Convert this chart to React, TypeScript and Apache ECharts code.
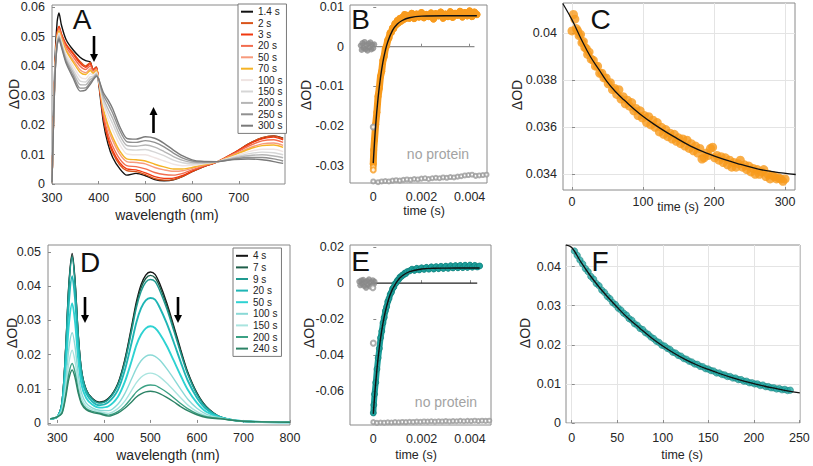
import React, { useEffect, useRef } from "react";
import * as echarts from "echarts";

const FONT = "'Liberation Sans', Arial, Helvetica, sans-serif";
const ORANGE = "#f89a1c";
const TEAL = "#1b9e9a";

// ---------- Panel A: spectra ----------
const wavelengthsA = [300, 306, 311, 315, 320, 330, 345, 360, 372, 382, 388, 395, 400, 410, 420, 430, 445, 460, 480, 500, 520, 540, 560, 580, 600, 620, 655, 690, 720, 750, 775, 795];
const a1p4 = [0.0005, 0.04, 0.055, 0.058, 0.054, 0.049, 0.0455, 0.043, 0.0418, 0.0414, 0.0387, 0.0396, 0.034, 0.021, 0.0135, 0.009, 0.0052, 0.003, 0.0036, 0.0028, 0.0015, 0.0011, 0.0014, 0.0026, 0.0042, 0.0056, 0.0076, 0.0105, 0.0135, 0.0156, 0.0163, 0.0155];
const a2 = [0.0005, 0.037, 0.051, 0.0535, 0.051, 0.0475, 0.0445, 0.0415, 0.04, 0.0412, 0.0388, 0.0397, 0.035, 0.0225, 0.015, 0.0105, 0.0065, 0.0045, 0.0042, 0.0032, 0.0018, 0.0013, 0.0015, 0.0026, 0.0042, 0.0056, 0.0076, 0.0106, 0.0135, 0.0157, 0.0163, 0.0154];
const a3 = [0.0005, 0.0369, 0.0508, 0.0533, 0.0508, 0.0472, 0.0441, 0.041, 0.0396, 0.0408, 0.0386, 0.0395, 0.035, 0.0229, 0.0157, 0.0113, 0.0072, 0.0051, 0.0048, 0.0038, 0.0025, 0.0019, 0.002, 0.0029, 0.0044, 0.0057, 0.0076, 0.0105, 0.0133, 0.0153, 0.0159, 0.015];
const a20 = [0.0005, 0.0367, 0.0504, 0.0528, 0.0503, 0.0465, 0.0432, 0.04, 0.0388, 0.0401, 0.0383, 0.0392, 0.0351, 0.0238, 0.017, 0.0128, 0.0085, 0.0062, 0.0059, 0.0051, 0.0039, 0.0032, 0.003, 0.0036, 0.0048, 0.0059, 0.0076, 0.0103, 0.0128, 0.0146, 0.015, 0.0141];
const a50 = [0.0005, 0.0364, 0.0499, 0.0522, 0.0497, 0.0457, 0.0421, 0.0387, 0.0377, 0.0391, 0.0378, 0.0388, 0.0351, 0.0249, 0.0188, 0.0147, 0.0101, 0.0076, 0.0073, 0.0068, 0.0056, 0.0048, 0.0043, 0.0045, 0.0053, 0.0062, 0.0076, 0.01, 0.0121, 0.0136, 0.0139, 0.0131];
const a70 = [0.0005, 0.0363, 0.0496, 0.0519, 0.0494, 0.0452, 0.0414, 0.0379, 0.0371, 0.0385, 0.0375, 0.0386, 0.0352, 0.0256, 0.0199, 0.0159, 0.0112, 0.0085, 0.0082, 0.0078, 0.0067, 0.0058, 0.0051, 0.0051, 0.0056, 0.0064, 0.0076, 0.0098, 0.0117, 0.013, 0.0132, 0.0124];
const a100 = [0.0005, 0.036, 0.0489, 0.0512, 0.0487, 0.0441, 0.0401, 0.0363, 0.0357, 0.0374, 0.0369, 0.038, 0.0353, 0.0269, 0.022, 0.0183, 0.0133, 0.0102, 0.0099, 0.0099, 0.0089, 0.0078, 0.0067, 0.0062, 0.0063, 0.0067, 0.0076, 0.0094, 0.0109, 0.0118, 0.0118, 0.011];
const a150 = [0.0005, 0.0357, 0.0484, 0.0505, 0.048, 0.0432, 0.0389, 0.0349, 0.0346, 0.0363, 0.0364, 0.0376, 0.0353, 0.0281, 0.0239, 0.0204, 0.0151, 0.0118, 0.0115, 0.0117, 0.0108, 0.0096, 0.0081, 0.0072, 0.0068, 0.007, 0.0076, 0.0091, 0.0102, 0.0108, 0.0106, 0.0099];
const a200 = [0.0005, 0.0354, 0.0479, 0.05, 0.0475, 0.0424, 0.0379, 0.0337, 0.0336, 0.0354, 0.036, 0.0372, 0.0354, 0.0291, 0.0255, 0.0222, 0.0166, 0.0131, 0.0128, 0.0132, 0.0125, 0.011, 0.0093, 0.008, 0.0073, 0.0072, 0.0076, 0.0088, 0.0096, 0.0099, 0.0095, 0.0089];
const a250 = [0.0005, 0.0352, 0.0474, 0.0495, 0.047, 0.0417, 0.0369, 0.0325, 0.0326, 0.0345, 0.0356, 0.0368, 0.0355, 0.0302, 0.0272, 0.024, 0.0182, 0.0144, 0.0141, 0.0147, 0.0141, 0.0126, 0.0105, 0.0088, 0.0078, 0.0075, 0.0076, 0.0085, 0.009, 0.009, 0.0085, 0.0078];
const a300 = [0.0005, 0.035, 0.047, 0.049, 0.0465, 0.041, 0.036, 0.0315, 0.0318, 0.0338, 0.0352, 0.0365, 0.0355, 0.031, 0.0285, 0.0255, 0.0195, 0.0155, 0.0152, 0.016, 0.0155, 0.0138, 0.0115, 0.0095, 0.0082, 0.0077, 0.0076, 0.0083, 0.0085, 0.0082, 0.0076, 0.007];
const namesA = ["1.4 s", "2 s", "3 s", "20 s", "50 s", "70 s", "100 s", "150 s", "200 s", "250 s", "300 s"];
const colorsA = ["#111111", "#d9541a", "#f0380f", "#f26d4f", "#f79a7c", "#f5b325", "#efe4e2", "#d6d6d6", "#b5b5b5", "#909090", "#7a7a7a"];
const spectraA = [a1p4, a2, a3, a20, a50, a70, a100, a150, a200, a250, a300];

// ---------- Panel D: spectra ----------
const wavelengthsD = [285, 300, 310, 318, 325, 332, 338, 345, 352, 362, 375, 390, 410, 430, 445, 460, 470, 480, 490, 500, 510, 520, 535, 550, 565, 580, 600, 620, 650, 700, 800];
const d4 = [0.0012, 0.0018, 0.006, 0.022, 0.041, 0.0496, 0.042, 0.026, 0.0155, 0.0098, 0.0072, 0.0061, 0.0072, 0.0115, 0.0185, 0.0285, 0.0355, 0.0405, 0.0433, 0.0442, 0.0435, 0.0408, 0.0352, 0.0285, 0.0215, 0.015, 0.0088, 0.0048, 0.0018, 0.0005, 0.0002];
const d7 = [0.0012, 0.0018, 0.006, 0.0218, 0.0405, 0.049, 0.0415, 0.0257, 0.0153, 0.0097, 0.0071, 0.006, 0.0071, 0.0113, 0.0181, 0.0279, 0.0347, 0.0396, 0.0423, 0.0432, 0.0425, 0.0399, 0.0344, 0.0279, 0.021, 0.0147, 0.0086, 0.0047, 0.0018, 0.0005, 0.0002];
const d9 = [0.0012, 0.0018, 0.0059, 0.0215, 0.0401, 0.0485, 0.0411, 0.0255, 0.0152, 0.0096, 0.007, 0.0058, 0.0069, 0.011, 0.0176, 0.0271, 0.0338, 0.0385, 0.0412, 0.042, 0.0414, 0.0388, 0.0335, 0.0271, 0.0205, 0.0143, 0.0084, 0.0046, 0.0018, 0.0005, 0.0002];
const d20 = [0.0012, 0.0018, 0.0054, 0.0192, 0.0356, 0.043, 0.0365, 0.0226, 0.0136, 0.0087, 0.0063, 0.0052, 0.0061, 0.0096, 0.0154, 0.0237, 0.0295, 0.0336, 0.0359, 0.0366, 0.0361, 0.0338, 0.0292, 0.0237, 0.0179, 0.0125, 0.0074, 0.0041, 0.0017, 0.0005, 0.0002];
const d50 = [0.0012, 0.0018, 0.0046, 0.0158, 0.029, 0.035, 0.0297, 0.0186, 0.0112, 0.0073, 0.0054, 0.0045, 0.0049, 0.0076, 0.012, 0.0183, 0.0228, 0.0259, 0.0277, 0.0283, 0.0278, 0.0261, 0.0226, 0.0183, 0.0139, 0.0098, 0.0059, 0.0033, 0.0016, 0.0005, 0.0002];
const d100 = [0.0012, 0.0018, 0.0038, 0.0121, 0.022, 0.0264, 0.0225, 0.0142, 0.0088, 0.0058, 0.0044, 0.0037, 0.0036, 0.0055, 0.0086, 0.013, 0.016, 0.0182, 0.0195, 0.0199, 0.0195, 0.0184, 0.0159, 0.013, 0.0099, 0.007, 0.0043, 0.0026, 0.0015, 0.0005, 0.0002];
const d150 = [0.0012, 0.0018, 0.0033, 0.0099, 0.0177, 0.0213, 0.0181, 0.0116, 0.0073, 0.0049, 0.0039, 0.0033, 0.0028, 0.0042, 0.0064, 0.0096, 0.0118, 0.0134, 0.0143, 0.0146, 0.0143, 0.0135, 0.0117, 0.0096, 0.0074, 0.0053, 0.0033, 0.0021, 0.0014, 0.0005, 0.0002];
const d200 = [0.0012, 0.0018, 0.003, 0.0083, 0.0146, 0.0174, 0.0149, 0.0096, 0.0061, 0.0042, 0.0034, 0.0029, 0.0023, 0.0033, 0.005, 0.0074, 0.0091, 0.0102, 0.0109, 0.0111, 0.011, 0.0103, 0.009, 0.0074, 0.0057, 0.0042, 0.0027, 0.0018, 0.0013, 0.0005, 0.0002];
const d240 = [0.0012, 0.0018, 0.0028, 0.0075, 0.013, 0.0155, 0.0133, 0.0087, 0.0056, 0.0039, 0.0031, 0.0027, 0.002, 0.0029, 0.0043, 0.0062, 0.0076, 0.0085, 0.0091, 0.0093, 0.0091, 0.0086, 0.0075, 0.0062, 0.0048, 0.0036, 0.0024, 0.0016, 0.0012, 0.0005, 0.0002];
const namesD = ["4 s", "7 s", "9 s", "20 s", "50 s", "100 s", "150 s", "200 s", "240 s"];
const colorsD = ["#151515", "#1e5e4a", "#1f9a90", "#1fb5b5", "#2ed2d2", "#8ad9d6", "#a9e4df", "#3ba184", "#2c8366"];
const spectraD = [d4, d7, d9, d20, d50, d100, d150, d200, d240];

// ---------- Panel B: fast kinetics ----------
const bData = [[0, -0.0295], [0.00002, -0.026], [0.00005, -0.0235], [0.0001, -0.0195], [0.00015, -0.0165], [0.0002, -0.0125], [0.00025, -0.0105], [0.0003, -0.0075], [0.00035, -0.0062], [0.0004, -0.0035], [0.00045, -0.0025], [0.0005, -0.0005], [0.00055, 0.0002], [0.0006, 0.0016], [0.00065, 0.0022], [0.0007, 0.0035], [0.00075, 0.0036], [0.0008, 0.0047], [0.00085, 0.0046], [0.0009, 0.0058], [0.00095, 0.0055], [0.001, 0.0066], [0.00105, 0.006], [0.0011, 0.0071], [0.00115, 0.0064], [0.0012, 0.0074], [0.00125, 0.0068], [0.0013, 0.0081], [0.00135, 0.0071], [0.0014, 0.0079], [0.0015, 0.0072], [0.0016, 0.0084], [0.0017, 0.0071], [0.0018, 0.0082], [0.0019, 0.0075], [0.002, 0.0086], [0.0021, 0.0073], [0.0022, 0.0081], [0.0023, 0.0076], [0.0024, 0.0085], [0.0025, 0.007], [0.0026, 0.0083], [0.0027, 0.0078], [0.0028, 0.0087], [0.0029, 0.0072], [0.003, 0.0082], [0.0031, 0.0076], [0.0032, 0.0088], [0.0033, 0.0074], [0.0034, 0.0084], [0.0035, 0.0079], [0.0036, 0.0089], [0.0037, 0.0075], [0.0038, 0.0086], [0.0039, 0.0078], [0.004, 0.009], [0.0041, 0.0076], [0.0042, 0.0087], [0.0043, 0.0081]];
const bFit = [[0, -0.0293], [0.0001, -0.0198], [0.0002, -0.0129], [0.0003, -0.0078], [0.0004, -0.0039], [0.0005, -0.001], [0.0006, 0.0012], [0.0008, 0.0041], [0.001, 0.0057], [0.0012, 0.0066], [0.0015, 0.0073], [0.002, 0.0077], [0.003, 0.0078], [0.0043, 0.0078]];
const bPre = [[-0.00052, 0.0003], [-0.00048, -0.0008], [-0.00045, 0.0009], [-0.0004, -0.0003], [-0.00036, 0.0012], [-0.00032, -0.0006], [-0.00028, 0.0004], [-0.00024, -0.001], [-0.0002, 0.0008], [-0.00016, -0.0002], [-0.00012, 0.0011], [-0.00008, -0.0007], [-0.00004, 0.0005], [0, -0.0004], [0.00004, 0.0006]];
const bNoProtein = [[0, -0.0339], [0.0002, -0.0341], [0.00035, -0.0339], [0.0005, -0.0338], [0.00065, -0.0339], [0.0008, -0.0337], [0.00095, -0.0336], [0.0011, -0.0337], [0.00125, -0.0335], [0.0014, -0.0334], [0.00155, -0.0335], [0.0017, -0.0333], [0.00185, -0.0334], [0.002, -0.0332], [0.00215, -0.0331], [0.0023, -0.0333], [0.00245, -0.0331], [0.0026, -0.033], [0.00275, -0.0331], [0.0029, -0.0329], [0.00305, -0.033], [0.0032, -0.0328], [0.00335, -0.0329], [0.0035, -0.0327], [0.00365, -0.0326], [0.0038, -0.0324], [0.00395, -0.0323], [0.0041, -0.0322], [0.00425, -0.0325], [0.0044, -0.0324], [0.00455, -0.0323], [0.0047, -0.0322]];
const bOpenT0 = [[0, -0.0202], [0, -0.0303], [0, -0.031]];
const bZero = [[0, 0], [0.0042, 0]];

// ---------- Panel C: slow kinetics ----------
const cData = [[0, 0.0401], [2, 0.0408], [4, 0.0406], [6, 0.0402], [8, 0.0401], [10, 0.0399], [12, 0.03995], [14, 0.0396], [16, 0.03965], [18, 0.0394], [20, 0.03935], [22, 0.0391], [24, 0.0392], [27, 0.0389], [30, 0.03885], [33, 0.0386], [36, 0.0386], [39, 0.0383], [42, 0.0383], [45, 0.0381], [48, 0.0381], [51, 0.03785], [54, 0.0379], [57, 0.0376], [60, 0.03765], [63, 0.0374], [66, 0.0376], [69, 0.0372], [72, 0.0373], [75, 0.037], [78, 0.03715], [81, 0.0369], [84, 0.03705], [87, 0.0367], [90, 0.0368], [93, 0.0365], [96, 0.0367], [99, 0.0364], [102, 0.0365], [105, 0.0362], [108, 0.03645], [111, 0.0361], [114, 0.0363], [117, 0.036], [120, 0.0362], [123, 0.0358], [126, 0.036], [129, 0.0357], [132, 0.0359], [135, 0.0356], [138, 0.03575], [141, 0.0355], [144, 0.0357], [147, 0.0354], [150, 0.03555], [153, 0.0353], [156, 0.0355], [159, 0.0352], [162, 0.03545], [165, 0.0351], [168, 0.0353], [171, 0.035], [174, 0.0352], [177, 0.0349], [180, 0.0351], [183, 0.03465], [186, 0.0347], [189, 0.0349], [192, 0.0348], [195, 0.0351], [198, 0.03515], [201, 0.0347], [204, 0.0348], [207, 0.0346], [210, 0.03475], [213, 0.0345], [216, 0.0347], [219, 0.0344], [222, 0.0346], [225, 0.0343], [228, 0.0345], [231, 0.0343], [234, 0.03445], [237, 0.0346], [240, 0.0343], [243, 0.0344], [246, 0.0342], [249, 0.03435], [252, 0.0341], [255, 0.03425], [258, 0.034], [261, 0.0342], [264, 0.034], [267, 0.0341], [270, 0.0342], [273, 0.0339], [276, 0.034], [279, 0.0338], [282, 0.03395], [285, 0.0339], [288, 0.0338], [291, 0.03385], [294, 0.0338], [297, 0.0337], [300, 0.0338]];
const cFit = [[-13, 0.04127], [0, 0.04057], [13, 0.03975], [26, 0.039], [38, 0.03845], [49, 0.03795], [61, 0.03752], [73, 0.03717], [96.5, 0.03654], [120, 0.03604], [143.5, 0.0356], [167, 0.0352], [190.6, 0.03489], [214, 0.03463], [237.6, 0.03442], [261, 0.03423], [284.7, 0.0341], [315, 0.03399]];

// ---------- Panel E: fast kinetics ----------
const eData = [[0, -0.0725], [0.00002, -0.068], [0.00005, -0.062], [0.0001, -0.0555], [0.00015, -0.048], [0.0002, -0.0418], [0.00025, -0.0365], [0.0003, -0.0305], [0.00035, -0.0268], [0.0004, -0.0222], [0.00045, -0.0192], [0.0005, -0.0155], [0.00055, -0.0132], [0.0006, -0.0102], [0.00065, -0.0086], [0.0007, -0.0062], [0.00075, -0.0051], [0.0008, -0.003], [0.00085, -0.0022], [0.0009, -0.0003], [0.00095, 0.0002], [0.001, 0.0016], [0.00105, 0.002], [0.0011, 0.0034], [0.00115, 0.0035], [0.0012, 0.0045], [0.00125, 0.0046], [0.0013, 0.0056], [0.00135, 0.0054], [0.0014, 0.0064], [0.0015, 0.0068], [0.0016, 0.0078], [0.0017, 0.0071], [0.0018, 0.0083], [0.0019, 0.0074], [0.002, 0.0086], [0.0021, 0.0077], [0.0022, 0.0088], [0.0023, 0.0078], [0.0024, 0.0091], [0.0025, 0.0079], [0.0026, 0.0092], [0.0027, 0.0081], [0.0028, 0.0094], [0.0029, 0.0082], [0.003, 0.0095], [0.0031, 0.0083], [0.0032, 0.0097], [0.0033, 0.0085], [0.0034, 0.0098], [0.0035, 0.0086], [0.0036, 0.0099], [0.0037, 0.0087], [0.0038, 0.01], [0.0039, 0.0088], [0.004, 0.0101], [0.0041, 0.0089], [0.0042, 0.0099], [0.0043, 0.009], [0.0044, 0.0096]];
const eFit = [[0, -0.073], [0.0001, -0.0554], [0.0002, -0.0416], [0.0003, -0.0308], [0.0004, -0.0223], [0.0005, -0.0157], [0.0006, -0.0105], [0.0007, -0.0064], [0.0008, -0.0032], [0.001, 0.0013], [0.0012, 0.0041], [0.0015, 0.0064], [0.002, 0.0079], [0.0025, 0.0083], [0.003, 0.0084], [0.0044, 0.0085]];
const ePre = [[-0.00058, 0.0008], [-0.00054, -0.0012], [-0.0005, 0.0015], [-0.00046, -0.0004], [-0.00042, 0.0019], [-0.00038, -0.0016], [-0.00034, 0.0006], [-0.0003, -0.0026], [-0.00026, 0.0012], [-0.00022, -0.0009], [-0.00018, 0.0021], [-0.00014, -0.0018], [-0.0001, 0.0004], [-0.00006, -0.0011], [-0.00002, 0.0016], [0.00002, -0.0006], [0.00005, 0.0009]];
const eNoProtein = [[0, -0.0776], [0.00015, -0.078], [0.0003, -0.0778], [0.00045, -0.0779], [0.0006, -0.0777], [0.00075, -0.0778], [0.0009, -0.0776], [0.00105, -0.0777], [0.0012, -0.0775], [0.00135, -0.0776], [0.0015, -0.0774], [0.00165, -0.0775], [0.0018, -0.0773], [0.00195, -0.0774], [0.0021, -0.0772], [0.00225, -0.0773], [0.0024, -0.0771], [0.00255, -0.0773], [0.0027, -0.0771], [0.00285, -0.0772], [0.003, -0.077], [0.00315, -0.0772], [0.0033, -0.077], [0.00345, -0.0771], [0.0036, -0.0769], [0.00375, -0.0771], [0.0039, -0.0769], [0.00405, -0.077], [0.0042, -0.0768], [0.00435, -0.077], [0.0045, -0.0768], [0.00465, -0.0769], [0.0048, -0.0768]];
const eOpenT0 = [[0, -0.0335], [-0.00002, -0.0026]];
const eZero = [[0, 0], [0.0043, 0]];

// ---------- Panel F: slow kinetics ----------
const fData = [[3, 0.044], [6, 0.0429], [9, 0.0417], [12, 0.0407], [15, 0.0395], [18, 0.0387], [21, 0.0375], [24, 0.0368], [27, 0.0357], [30, 0.0351], [33, 0.034], [36, 0.0334], [39, 0.0324], [42, 0.0318], [45, 0.0308], [48, 0.0303], [51, 0.0294], [54, 0.0289], [57, 0.0281], [60, 0.0276], [63, 0.0267], [66, 0.0263], [69, 0.0254], [72, 0.025], [75, 0.0242], [78, 0.0239], [81, 0.0231], [84, 0.0227], [87, 0.022], [90, 0.0216], [93, 0.0209], [96, 0.0206], [99, 0.0199], [102, 0.0197], [105, 0.0191], [108, 0.0188], [111, 0.0181], [114, 0.0179], [117, 0.0173], [120, 0.0171], [123, 0.0165], [126, 0.0163], [129, 0.0158], [132, 0.0156], [135, 0.0151], [138, 0.015], [141, 0.0145], [144, 0.0144], [147, 0.0139], [150, 0.0138], [153, 0.0134], [156, 0.0133], [159, 0.0128], [162, 0.0128], [165, 0.0124], [168, 0.0123], [171, 0.0119], [174, 0.0119], [177, 0.0115], [180, 0.0115], [183, 0.0111], [186, 0.0111], [189, 0.0107], [192, 0.0107], [195, 0.0103], [198, 0.0103], [201, 0.01], [204, 0.01], [207, 0.0096], [210, 0.0097], [213, 0.0093], [216, 0.0093], [219, 0.009], [222, 0.009], [225, 0.0087], [228, 0.0088], [231, 0.0085], [234, 0.0086], [237, 0.0083], [240, 0.0084]];
const fFit = [[-6.6, 0.0456], [0, 0.0449], [10, 0.0412], [20, 0.0378], [30, 0.0348], [40, 0.0321], [50, 0.0296], [62, 0.0268], [75, 0.0242], [87, 0.0219], [100, 0.0197], [112, 0.0179], [125, 0.0162], [137, 0.0149], [150, 0.0137], [163, 0.0126], [176, 0.0116], [188, 0.0108], [200, 0.0101], [212, 0.0094], [225, 0.0088], [237, 0.0082], [250.5, 0.0077]];

// ---------- Tick values ----------
const ticksAx = [300, 400, 500, 600, 700];
const ticksAy = [0, 0.01, 0.02, 0.03, 0.04, 0.05, 0.06];
const ticksBx = [0, 0.002, 0.004];
const ticksBy = [-0.03, -0.02, -0.01, 0, 0.01];
const ticksCx = [0, 100, 200, 300];
const ticksCy = [0.034, 0.036, 0.038, 0.04];
const ticksDx = [300, 400, 500, 600, 700, 800];
const ticksDy = [0, 0.01, 0.02, 0.03, 0.04, 0.05];
const ticksEx = [0, 0.002, 0.004];
const ticksEy = [-0.06, -0.04, -0.02, 0, 0.02];
const ticksFx = [0, 50, 100, 150, 200, 250];
const ticksFy = [0, 0.01, 0.02, 0.03, 0.04];

const fmt = (v: number) => String(parseFloat(Number(v).toFixed(5)));

function axis(kind: "x" | "y", gridIndex: number, min: number, max: number, ticks: number[], margin: number, grid: boolean) {
  return {
    type: "value",
    gridIndex,
    min,
    max,
    position: kind === "x" ? "bottom" : "left",
    axisLine: { show: false },
    axisTick: { show: true, inside: true, length: 3, customValues: ticks, lineStyle: { color: "#8a8a8a", width: 1 } },
    axisLabel: {
      show: true,
      customValues: ticks,
      margin,
      formatter: fmt,
      color: "#262626",
      fontSize: 12.5,
      fontFamily: FONT,
    },
    splitLine: { show: grid, lineStyle: { color: "#e4e4e4", width: 1 } },
  };
}

function App() {
  const ref = useRef<HTMLDivElement>(null);
  useEffect(() => {
    if (!ref.current) return;
    const chart = echarts.init(ref.current, null, { renderer: "svg" });

    const grids = [
      { left: 52, top: 5, width: 233, height: 179 },
      { left: 350, top: 5, width: 137, height: 178 },
      { left: 563, top: 3, width: 232, height: 187 },
      { left: 48, top: 245, width: 242, height: 180 },
      { left: 350, top: 245, width: 141, height: 180 },
      { left: 566, top: 245, width: 234, height: 178 },
    ].map((g) => ({ ...g, show: true, borderColor: "#8a8a8a", borderWidth: 1, backgroundColor: "#ffffff" }));

    const xAxes = [
      axis("x", 0, 300, 799, ticksAx, 7, false),
      axis("x", 1, -0.000965, 0.00472, ticksBx, 7, false),
      axis("x", 2, -12.7, 314, ticksCx, 5, true),
      axis("x", 3, 280, 800, ticksDx, 6, false),
      axis("x", 4, -0.000965, 0.00487, ticksEx, 7, false),
      axis("x", 5, -6.3, 250.7, ticksFx, 8, true),
    ];
    const yAxes = [
      axis("y", 0, 0, 0.06068, ticksAy, 7, false),
      axis("y", 1, -0.0343, 0.0105, ticksBy, 6, false),
      axis("y", 2, 0.03333, 0.04129, ticksCy, 6, true),
      axis("y", 3, -0.0006, 0.0521, ticksDy, 7, false),
      axis("y", 4, -0.0792, 0.0213, ticksEy, 6, false),
      axis("y", 5, 0, 0.04554, ticksFy, 5, true),
    ];

    const series: any[] = [];
    spectraA.forEach((vals, i) => {
      series.push({
        type: "line",
        name: namesA[i],
        xAxisIndex: 0,
        yAxisIndex: 0,
        data: wavelengthsA.map((w, j) => [w, vals[j]]),
        symbol: "none",
        smooth: 0.25,
        color: colorsA[i],
        lineStyle: { width: 1.4, color: colorsA[i] },
        z: 2,
      });
    });
    spectraD.forEach((vals, i) => {
      series.push({
        type: "line",
        name: "D " + namesD[i],
        xAxisIndex: 3,
        yAxisIndex: 3,
        data: wavelengthsD.map((w, j) => [w, vals[j]]),
        symbol: "none",
        smooth: 0.3,
        color: colorsD[i],
        lineStyle: { width: i === 3 || i === 4 ? 1.9 : 1.4, color: colorsD[i] },
        z: 2,
      });
    });

    // Panel B
    series.push({ type: "scatter", xAxisIndex: 1, yAxisIndex: 1, data: bPre, symbol: "circle", symbolSize: 6, itemStyle: { color: "#8a8a8a" }, z: 2 });
    series.push({ type: "line", xAxisIndex: 1, yAxisIndex: 1, data: bZero, symbol: "none", lineStyle: { color: "#8c8c8c", width: 1.2 }, z: 2 });
    series.push({ type: "line", xAxisIndex: 1, yAxisIndex: 1, data: bData, symbol: "circle", symbolSize: 7, showSymbol: true, itemStyle: { color: ORANGE }, lineStyle: { color: ORANGE, width: 7, join: "round", cap: "round" }, z: 3 });
    series.push({ type: "scatter", xAxisIndex: 1, yAxisIndex: 1, data: bOpenT0.slice(1), symbol: "emptyCircle", symbolSize: 5, itemStyle: { color: ORANGE, borderWidth: 1.2 }, z: 3 });
    series.push({ type: "scatter", xAxisIndex: 1, yAxisIndex: 1, data: bOpenT0.slice(0, 1), symbol: "emptyCircle", symbolSize: 5, itemStyle: { color: "#999999", borderWidth: 1 }, z: 3 });
    series.push({ type: "line", xAxisIndex: 1, yAxisIndex: 1, data: bFit, symbol: "none", smooth: 0.4, lineStyle: { color: "#111", width: 1.4 }, z: 4 });
    series.push({ type: "scatter", xAxisIndex: 1, yAxisIndex: 1, data: bNoProtein, symbol: "emptyCircle", symbolSize: 4, itemStyle: { color: "#9a9a9a", borderWidth: 1 }, z: 3 });

    // Panel C
    series.push({ type: "scatter", xAxisIndex: 2, yAxisIndex: 2, data: cData, symbol: "circle", symbolSize: 9, itemStyle: { color: ORANGE }, z: 3 });
    series.push({ type: "line", xAxisIndex: 2, yAxisIndex: 2, data: cFit, symbol: "none", smooth: 0.4, lineStyle: { color: "#111", width: 1.3 }, z: 4 });

    // Panel E
    series.push({ type: "scatter", xAxisIndex: 4, yAxisIndex: 4, data: ePre, symbol: "circle", symbolSize: 6, itemStyle: { color: "#8a8a8a" }, z: 2 });
    series.push({ type: "line", xAxisIndex: 4, yAxisIndex: 4, data: eZero, symbol: "none", lineStyle: { color: "#222", width: 1.2 }, z: 2 });
    series.push({ type: "line", xAxisIndex: 4, yAxisIndex: 4, data: eData, symbol: "circle", symbolSize: 6, showSymbol: true, itemStyle: { color: TEAL, borderColor: "#117a76", borderWidth: 0.6 }, lineStyle: { color: TEAL, width: 6, join: "round", cap: "round" }, z: 3 });
    series.push({ type: "scatter", xAxisIndex: 4, yAxisIndex: 4, data: eOpenT0, symbol: "emptyCircle", symbolSize: 5, itemStyle: { color: "#999999", borderWidth: 1 }, z: 3 });
    series.push({ type: "line", xAxisIndex: 4, yAxisIndex: 4, data: eFit, symbol: "none", smooth: 0.4, lineStyle: { color: "#111", width: 1.4 }, z: 4 });
    series.push({ type: "scatter", xAxisIndex: 4, yAxisIndex: 4, data: eNoProtein, symbol: "emptyCircle", symbolSize: 4, itemStyle: { color: "#9a9a9a", borderWidth: 1 }, z: 3 });

    // Panel F
    series.push({ type: "scatter", xAxisIndex: 5, yAxisIndex: 5, data: fData, symbol: "circle", symbolSize: 6.5, itemStyle: { color: "#22a6a2", borderColor: "#117a76", borderWidth: 0.6 }, z: 3 });
    series.push({ type: "line", xAxisIndex: 5, yAxisIndex: 5, data: fFit, symbol: "none", smooth: 0.4, lineStyle: { color: "#111", width: 1.3 }, z: 4 });

    const txt = (x: number, y: number, text: string, size: number, extra: any = {}) => ({
      type: "text",
      x,
      y,
      z: 100,
      style: { text, fontSize: size, fontFamily: FONT, fill: "#111", align: "center", verticalAlign: "middle", ...extra },
    });
    const yName = (x: number, y: number) => ({
      type: "text",
      x,
      y,
      rotation: Math.PI / 2,
      z: 100,
      style: { text: "\u0394OD", fontSize: 14, fontFamily: FONT, fill: "#262626", align: "center", verticalAlign: "middle" },
    });
    const arrow = (x: number, yTop: number, yBot: number, down: boolean) => {
      const head = 8;
      const shaft = down
        ? { x1: x, y1: yTop, x2: x, y2: yBot - head + 1 }
        : { x1: x, y1: yTop + head - 1, x2: x, y2: yBot };
      const pts = down
        ? [[x - 4, yBot - head], [x + 4, yBot - head], [x, yBot]]
        : [[x - 4, yTop + head], [x + 4, yTop + head], [x, yTop]];
      return [
        { type: "line", z: 100, shape: shaft, style: { stroke: "#000", lineWidth: 2.6 } },
        { type: "polygon", z: 100, shape: { points: pts }, style: { fill: "#000" } },
      ];
    };

    const graphic: any[] = [
      txt(82, 19, "A", 28),
      txt(360.5, 19, "B", 28),
      txt(600.5, 19, "C", 28),
      txt(90, 262.5, "D", 28),
      txt(360.5, 261.5, "E", 28),
      txt(600, 261.5, "F", 28),
      yName(14, 94),
      yName(306, 95),
      yName(517, 95),
      yName(12, 333),
      yName(309, 333),
      yName(525, 333),
      txt(167, 215, "wavelength (nm)", 14, { fill: "#262626" }),
      txt(424, 211, "time (s)", 12.5, { fill: "#262626" }),
      txt(678, 207, "time (s)", 12.5, { fill: "#262626" }),
      txt(168, 455, "wavelength (nm)", 14, { fill: "#262626" }),
      txt(416, 455, "time (s)", 12.5, { fill: "#262626" }),
      txt(682, 455, "time (s)", 12.5, { fill: "#262626" }),
      txt(438, 154, "no protein", 14, { fill: "#a3a3a3" }),
      txt(446, 402, "no protein", 14, { fill: "#a3a3a3" }),
      ...arrow(94, 36, 62, true),
      ...arrow(153.5, 107, 133, false),
      ...arrow(85, 297, 323, true),
      ...arrow(178, 297, 323, true),
    ];

    const legendCommon = {
      orient: "vertical",
      itemGap: 0,
      itemWidth: 12,
      itemHeight: 2,
      icon: "rect",
      selectedMode: false,
      borderColor: "#7a7a7a",
      borderWidth: 1,
      backgroundColor: "#ffffff",
      borderRadius: 0,
      z: 50,
    };

    chart.setOption({
      animation: false,
      backgroundColor: "#ffffff",
      grid: grids,
      xAxis: xAxes,
      yAxis: yAxes,
      legend: [
        {
          ...legendCommon,
          data: namesA,
          left: 238,
          top: 4,
          padding: [2, 4, 2, 3],
          textStyle: { fontSize: 10, lineHeight: 11.4, color: "#222", fontFamily: FONT },
        },
        {
          ...legendCommon,
          data: namesD.map((n) => "D " + n),
          formatter: (n: string) => n.replace(/^D /, ""),
          left: 233,
          top: 248,
          padding: [2, 4, 2, 3],
          textStyle: { fontSize: 10, lineHeight: 11.6, color: "#222", fontFamily: FONT },
        },
      ],
      series,
      graphic,
    });
    return () => chart.dispose();
  }, []);
  return <div ref={ref} style={{ position: "fixed", left: 0, top: 0, width: 813, height: 466, background: "#fff" }} />;
}

export default App;
